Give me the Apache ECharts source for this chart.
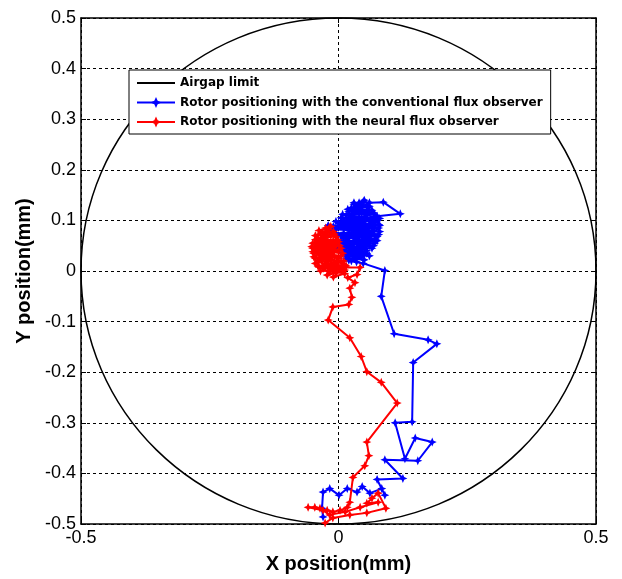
<!DOCTYPE html>
<html>
<head>
<meta charset="utf-8">
<script src="https://cdn.jsdelivr.net/npm/echarts@6/dist/echarts.min.js"></script>
<style>
  html, body { margin: 0; padding: 0; background: #fff; }
  #chart-container { width: 622px; height: 579px; }
</style>
</head>
<body>
<div id="chart-container"></div>
<script>
// airgap limit: circle centre and radius (mm)
const airgap = [[0, 0, 0.5]];

// rotor trajectory with the conventional flux observer (x, y in mm)
const conventional = [
  [-0.030, -0.486], [-0.032, -0.469], [-0.030, -0.437], [-0.017, -0.430], [0.001, -0.443],
  [0.017, -0.430], [0.036, -0.437], [0.046, -0.426], [0.061, -0.439], [0.084, -0.430],
  [0.090, -0.443], [0.075, -0.412], [0.125, -0.410], [0.090, -0.373], [0.154, -0.375],
  [0.182, -0.338], [0.149, -0.330], [0.129, -0.371], [0.110, -0.300], [0.143, -0.298],
  [0.145, -0.181], [0.191, -0.144], [0.174, -0.136], [0.108, -0.124], [0.083, -0.050],
  [0.090, 0.001], [0.048, 0.015], [0.020, 0.021],
  [0.035, 0.018], [0.015, 0.030], [0.045, 0.028], [0.012, 0.040], [0.055, 0.035],
  [0.020, 0.045], [0.065, 0.045], [0.010, 0.050], [0.070, 0.055], [0.005, 0.060],
  [0.060, 0.060], [0.000, 0.070], [0.075, 0.068], [0.010, 0.075], [0.080, 0.078],
  [-0.005, 0.082], [0.070, 0.085], [-0.020, 0.090], [0.078, 0.092], [0.000, 0.095],
  [0.060, 0.100], [0.005, 0.105], [0.080, 0.104], [0.015, 0.110], [0.070, 0.112],
  [0.020, 0.118], [0.065, 0.120], [0.025, 0.125], [0.055, 0.130], [0.035, 0.128],
  [0.050, 0.140], [0.040, 0.135], [0.060, 0.135], [0.087, 0.136], [0.120, 0.113],
  [0.075, 0.108], [0.030, 0.100], [0.070, 0.090], [0.010, 0.085], [0.060, 0.075],
  [0.020, 0.065], [0.070, 0.070], [0.030, 0.055], [0.060, 0.050], [0.025, 0.040],
  [0.050, 0.045], [0.030, 0.030], [0.045, 0.060], [0.015, 0.090], [0.050, 0.100],
  [0.030, 0.115], [0.045, 0.085], [0.065, 0.095], [0.040, 0.070],
  [0.075, 0.060], [0.015, 0.055], [0.068, 0.080], [-0.010, 0.088], [0.055, 0.110],
  [0.010, 0.100], [0.072, 0.098], [0.020, 0.080], [0.058, 0.125], [0.030, 0.135],
  [0.045, 0.115], [0.020, 0.105], [0.065, 0.085], [0.005, 0.070], [0.055, 0.040],
  [0.020, 0.035], [0.060, 0.065], [0.012, 0.095], [0.078, 0.085], [0.035, 0.045],
  [0.025, 0.020], [0.045, 0.050], [0.010, 0.065], [0.050, 0.075], [0.030, 0.090],
  [0.068, 0.105], [0.040, 0.125], [0.025, 0.110], [0.062, 0.070],
  [0.015, 0.025], [0.050, 0.022], [0.008, 0.035], [0.060, 0.030], [0.003, 0.045],
  [0.068, 0.050], [0.000, 0.055], [0.072, 0.063], [-0.008, 0.075], [0.078, 0.072],
  [-0.015, 0.085], [0.080, 0.090], [-0.005, 0.098], [0.075, 0.100], [0.008, 0.112],
  [0.068, 0.115], [0.018, 0.122], [0.060, 0.128], [0.030, 0.132], [0.048, 0.137],
  [0.035, 0.120], [0.055, 0.118], [0.040, 0.105], [0.025, 0.095], [0.058, 0.088],
  [0.035, 0.080], [0.052, 0.060], [0.038, 0.038]
];

// rotor trajectory with the neural flux observer (x, y in mm)
const neural = [
  [-0.026, -0.498], [-0.011, -0.488], [0.022, -0.482], [0.055, -0.478], [0.092, -0.469],
  [0.077, -0.439], [0.065, -0.449], [0.055, -0.459], [0.077, -0.457], [0.042, -0.467],
  [0.013, -0.476], [-0.017, -0.482], [-0.030, -0.473], [-0.059, -0.467], [-0.046, -0.467],
  [-0.036, -0.469], [-0.022, -0.473], [-0.011, -0.476], [0.003, -0.473], [0.017, -0.467],
  [0.022, -0.457], [0.028, -0.408], [0.051, -0.385], [0.059, -0.365], [0.055, -0.338],
  [0.114, -0.261], [0.083, -0.220], [0.055, -0.199], [0.044, -0.169], [0.022, -0.132],
  [-0.020, -0.097], [-0.011, -0.071], [0.020, -0.066], [0.026, -0.052], [0.022, -0.034],
  [0.032, -0.023], [0.018, -0.013], [0.036, -0.007], [0.042, 0.007], [0.009, 0.007],
  [-0.010, -0.012], [0.012, -0.005],
  [-0.020, 0.000], [0.015, 0.010], [-0.040, 0.010], [0.010, 0.020], [-0.045, 0.025],
  [0.005, 0.030], [-0.048, 0.035], [0.000, 0.040], [-0.050, 0.045], [-0.005, 0.050],
  [-0.045, 0.055], [0.000, 0.058], [-0.040, 0.065], [-0.005, 0.068], [-0.035, 0.075],
  [-0.010, 0.078], [-0.025, 0.085], [-0.015, 0.088], [-0.030, 0.070], [-0.020, 0.050],
  [-0.035, 0.030], [-0.010, 0.015], [-0.030, 0.005], [0.000, 0.025], [-0.025, 0.040],
  [-0.010, 0.060], [-0.040, 0.050], [-0.020, 0.020], [-0.045, 0.015], [-0.015, 0.035],
  [-0.030, 0.060], [0.005, 0.045],
  [-0.040, 0.040], [0.008, 0.035], [-0.050, 0.055], [-0.015, 0.070], [-0.045, 0.070],
  [-0.020, 0.082], [-0.040, 0.060], [-0.005, 0.055], [-0.048, 0.028], [0.005, 0.018],
  [-0.035, 0.000], [0.012, 0.002], [-0.025, 0.015], [-0.045, 0.040], [-0.010, 0.040],
  [-0.035, 0.055], [-0.025, 0.075], [-0.008, 0.028], [-0.040, 0.020], [-0.015, 0.005],
  [-0.030, 0.045], [0.000, 0.010],
  [-0.022, -0.008], [0.010, 0.000], [-0.038, 0.008], [0.012, 0.012], [-0.050, 0.038],
  [0.002, 0.050], [-0.052, 0.048], [-0.002, 0.062], [-0.045, 0.062], [-0.008, 0.073],
  [-0.038, 0.080], [-0.018, 0.086], [-0.028, 0.065], [-0.012, 0.048], [-0.032, 0.022],
  [-0.005, 0.003]
];

const legendNames = [
  'Airgap limit',
  'Rotor positioning with the conventional flux observer',
  'Rotor positioning with the neural flux observer'
];

const star = 'path://M0,-10 L3,-3 L10,0 L3,3 L0,10 L-3,3 L-10,0 L-3,-3 Z';
const fmt = (v) => String(Math.round(v * 10) / 10);

function trace(name, color, data) {
  return {
    name,
    type: 'line',
    data,
    color,
    symbol: star,
    symbolSize: 9,
    lineStyle: { width: 2, color },
    itemStyle: { color },
    animation: false
  };
}

const option = {
  animation: false,
  grid: { left: 81, right: 26, top: 18, bottom: 50 },
  legend: {
    data: [
      { name: legendNames[0], itemStyle: { opacity: 0 } },
      legendNames[1],
      legendNames[2]
    ],
    orient: 'vertical',
    left: 129,
    top: 70,
    padding: [7, 8, 6, 7],
    itemGap: 7.5,
    itemWidth: 38,
    itemHeight: 14,
    backgroundColor: '#fff',
    borderColor: '#000',
    borderWidth: 1,
    textStyle: { fontFamily: 'DejaVu Sans', fontWeight: 'bold', fontSize: 12, color: '#000' }
  },
  xAxis: [
    {
      type: 'value', min: -0.5, max: 0.5, interval: 0.5,
      name: 'X position(mm)', nameLocation: 'middle', nameGap: 30,
      nameTextStyle: { fontFamily: 'Liberation Sans', fontWeight: 'bold', fontSize: 20, color: '#000' },
      axisLine: { show: true, onZero: false, lineStyle: { color: '#000', width: 1.5 } },
      axisTick: { show: true, inside: true, length: 5, lineStyle: { color: '#000' } },
      axisLabel: { fontFamily: 'Liberation Sans', fontSize: 18, color: '#000', margin: 5, formatter: fmt },
      splitLine: { show: true, lineStyle: { color: '#000', type: [3, 3], width: 1 } }
    },
    {
      type: 'value', min: -0.5, max: 0.5, interval: 0.5, position: 'top',
      axisLine: { show: true, onZero: false, lineStyle: { color: '#000', width: 1.5 } },
      axisTick: { show: true, inside: true, length: 5, lineStyle: { color: '#000' } },
      axisLabel: { show: false },
      splitLine: { show: false }
    }
  ],
  yAxis: [
    {
      type: 'value', min: -0.5, max: 0.5, interval: 0.1,
      name: 'Y position(mm)', nameLocation: 'middle', nameGap: 45,
      nameTextStyle: { fontFamily: 'Liberation Sans', fontWeight: 'bold', fontSize: 20, color: '#000' },
      axisLine: { show: true, onZero: false, lineStyle: { color: '#000', width: 1.5 } },
      axisTick: { show: true, inside: true, length: 5, lineStyle: { color: '#000' } },
      axisLabel: { fontFamily: 'Liberation Sans', fontSize: 18, color: '#000', margin: 5, formatter: fmt },
      splitLine: { show: true, lineStyle: { color: '#000', type: [3, 3], width: 1 } }
    },
    {
      type: 'value', min: -0.5, max: 0.5, interval: 0.1, position: 'right',
      axisLine: { show: true, onZero: false, lineStyle: { color: '#000', width: 1.5 } },
      axisTick: { show: true, inside: true, length: 5, lineStyle: { color: '#000' } },
      axisLabel: { show: false },
      splitLine: { show: false }
    }
  ],
  series: [
    {
      name: 'Airgap limit',
      type: 'line',
      data: [],
      symbol: 'none',
      color: '#000',
      lineStyle: { width: 1.5, color: '#000' }
    },
    {
      name: 'circle',
      type: 'custom',
      data: airgap,
      silent: true,
      renderItem: function (params, api) {
        const c = api.coord([api.value(0), api.value(1)]);
        const r = api.size([api.value(2), api.value(2)]);
        return {
          type: 'ellipse',
          shape: { cx: c[0], cy: c[1], rx: r[0], ry: r[1] },
          style: { fill: null, stroke: '#000', lineWidth: 1.5 }
        };
      }
    },
    trace(legendNames[1], '#0000ff', conventional),
    trace(legendNames[2], '#ff0000', neural)
  ]
};

const myChart = echarts.init(document.getElementById('chart-container'));
myChart.setOption(option);
</script>
</body>
</html>
